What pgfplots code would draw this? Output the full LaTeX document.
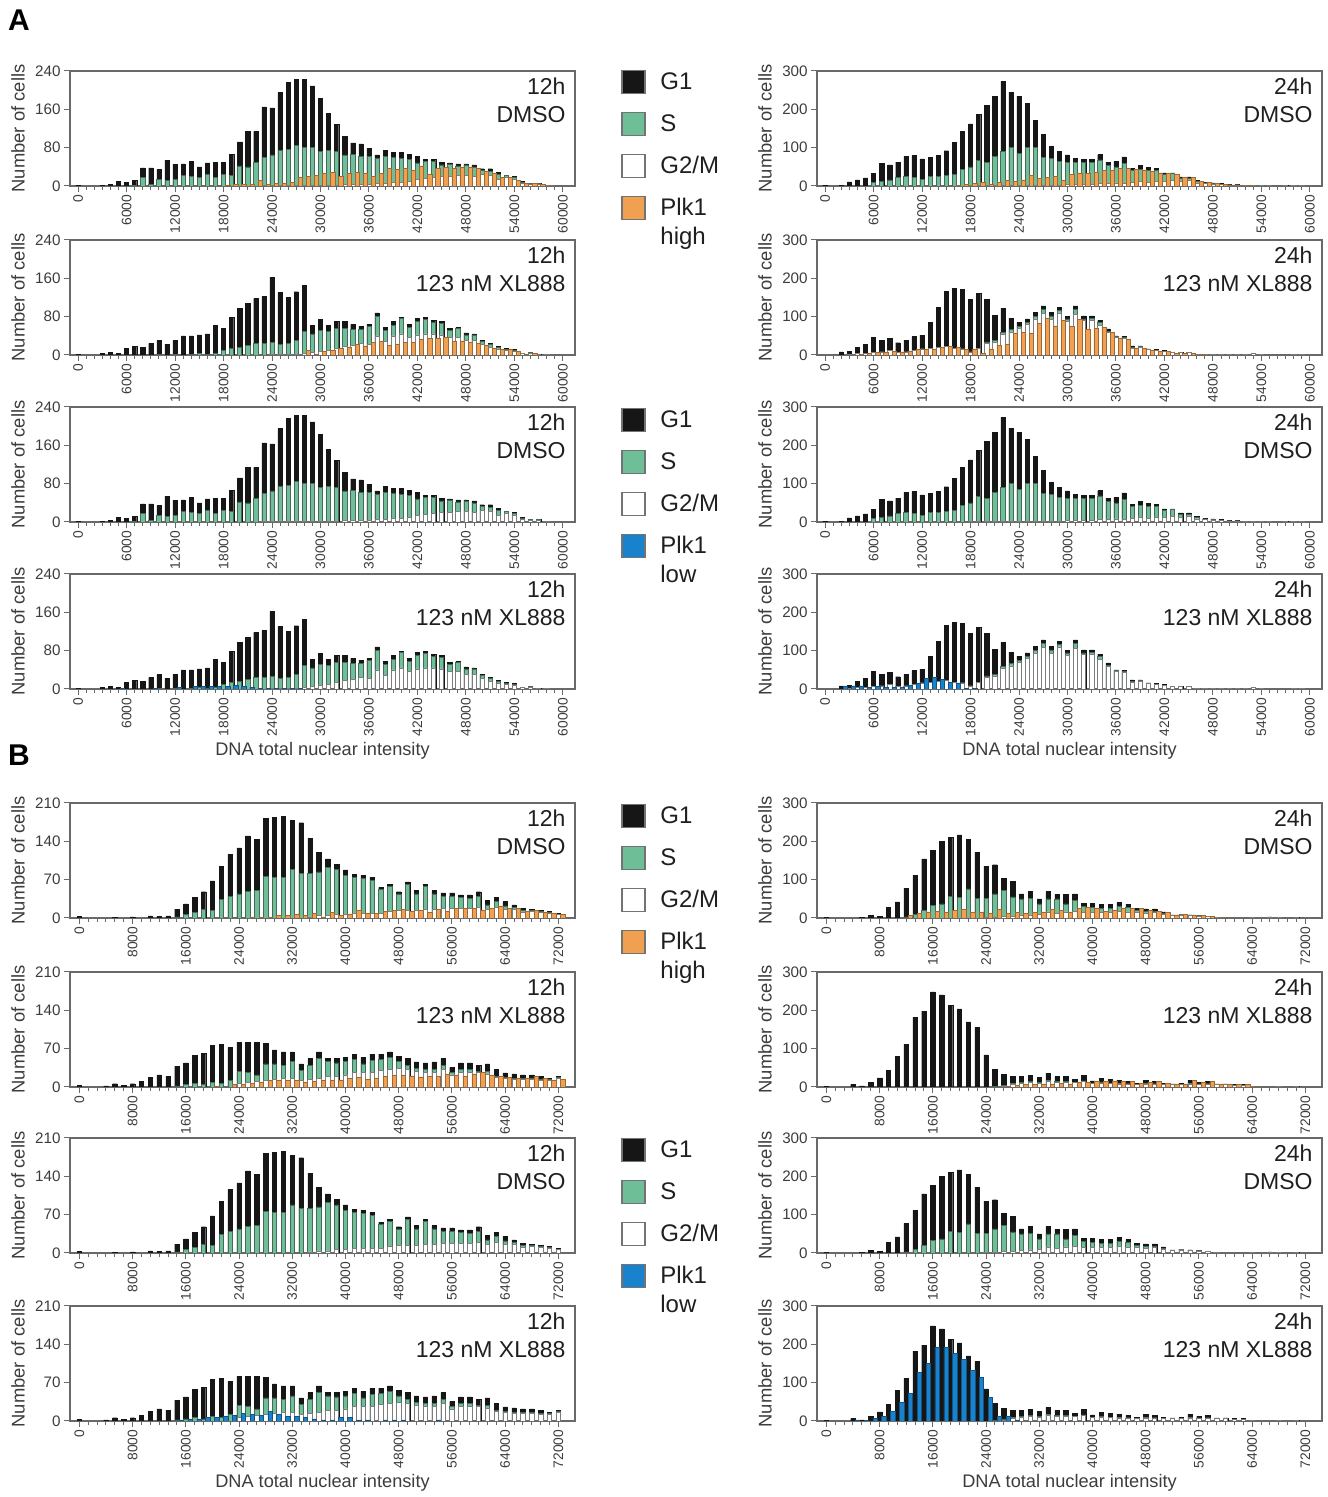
\documentclass[border=0pt]{standalone}
\usepackage{pgfplots}
\pgfplotsset{compat=1.18}
\usepackage{pgfplotstable}
\usepackage{fontspec}
\setmainfont{Liberation Sans}
\definecolor{gblack}{RGB}{22,22,22}
\definecolor{sgreen}{RGB}{110,190,152}
\definecolor{sedge}{RGB}{70,105,88}
\definecolor{wedge}{RGB}{125,125,125}
\definecolor{plkhigh}{RGB}{240,160,80}
\definecolor{plklow}{RGB}{25,130,205}
\definecolor{axgray}{RGB}{105,105,105}
\definecolor{labgray}{RGB}{60,60,60}

% columns: tot = top of G1 (total), st = top of S, wt = top of G2/M, hi = Plk1 high, lo = Plk1 low
\pgfplotstableread{
tot st wt hi lo
2 0 0 0 0
0 0 0 0 0
0 0 0 0 0
2 0 0 0 0
4 0 0 0 0
10 0 0 0 0
8 0 0 0 0
12 2 0 0 0
38 18 0 0 0
38 4 0 0 0
34 14 0 0 0
54 12 0 0 0
45 14 0 0 0
46 22 0 0 0
52 20 0 0 0
40 18 0 0 0
48 24 0 0 0
50 18 0 0 0
50 24 0 2 0
66 22 0 4 0
92 42 0 4 0
114 40 0 4 0
114 50 0 12 0
165 60 2 4 0
163 65 2 6 0
195 75 2 6 0
216 76 2 8 0
223 84 2 18 0
223 80 2 20 0
209 80 2 22 0
183 72 2 26 0
152 75 2 28 0
128 72 2 20 0
104 65 4 26 0
90 66 4 28 0
88 62 4 26 0
78 62 4 20 0
65 58 6 26 0
75 62 6 36 0
70 60 8 34 0
70 58 8 36 0
66 55 10 32 0
62 48 14 42 0
56 52 16 24 0
56 52 18 36 0
50 44 20 38 0
48 46 20 36 0
46 42 22 40 0
46 44 22 40 0
44 40 20 36 0
36 32 24 30 0
36 30 22 26 0
28 24 14 18 0
22 22 18 18 0
20 18 14 12 0
10 8 6 6 0
6 5 3 5 0
6 6 4 4 0
2 2 2 2 0
0 0 0 0 0
0 0 0 0 0
}\AaD

\pgfplotstableread{
tot st wt hi lo
2 0 0 0 0
0 0 0 0 0
0 0 0 0 0
4 0 0 0 0
6 0 0 0 0
4 0 0 0 2
14 0 0 0 0
18 0 0 0 0
16 0 0 0 0
24 0 0 0 2
30 2 0 0 0
22 0 0 0 0
30 2 0 0 4
40 0 0 0 0
40 2 0 0 6
42 4 0 0 6
44 2 0 0 6
62 4 0 0 6
56 10 0 0 6
78 14 0 0 8
98 16 0 0 6
108 20 0 0 4
118 24 0 0 2
122 24 0 0 2
162 26 2 0 2
130 22 2 0 2
120 24 2 0 2
132 30 2 0 2
145 50 4 10 0
62 44 6 2 0
74 52 8 8 0
62 50 10 10 0
70 56 14 14 0
70 56 18 16 0
64 54 20 22 0
60 54 24 18 0
64 60 22 26 0
88 80 40 28 0
58 52 28 20 0
70 62 40 22 0
78 76 44 26 0
64 58 36 26 0
76 70 42 32 0
78 74 44 34 0
72 68 44 34 0
70 66 42 36 0
56 52 36 28 0
58 56 36 28 0
46 42 30 26 0
44 42 30 24 0
30 28 22 20 0
24 22 16 14 0
18 16 12 12 0
14 12 10 12 0
12 10 8 8 0
4 4 4 2 0
6 5 4 3 0
2 2 2 0 0
2 2 2 0 0
0 0 0 0 0
0 0 0 0 0
}\AaX

\pgfplotstableread{
tot st wt hi lo
2 0 0 0 0
0 0 0 0 0
2 0 0 0 0
11 0 0 0 0
16 0 0 0 0
21 0 0 0 0
33 10 0 0 0
59 12 0 0 0
55 16 0 0 0
62 23 0 0 0
77 24 0 0 0
79 23 0 0 0
71 18 0 0 0
75 24 0 0 0
79 24 0 0 0
92 27 0 0 0
114 31 0 2 0
142 44 0 4 0
162 50 2 6 0
186 66 2 10 0
210 62 2 4 0
234 77 2 10 0
273 90 2 14 0
245 101 2 12 0
234 85 2 16 0
215 101 2 28 0
171 101 2 20 0
134 75 2 22 0
104 71 2 24 0
91 64 2 16 0
81 62 4 30 0
72 62 4 34 0
70 62 4 32 0
70 62 4 36 0
82 68 6 40 0
62 54 6 40 0
64 50 8 46 0
76 58 6 46 0
46 40 10 44 0
54 44 12 42 0
48 40 10 38 0
46 40 12 34 0
34 30 12 32 0
34 32 14 30 0
24 20 12 22 0
24 20 14 22 0
14 12 8 12 0
10 8 6 10 0
8 6 5 6 0
6 4 4 4 0
4 3 3 3 0
4 3 3 2 0
2 2 2 2 0
2 2 2 0 0
2 2 2 0 0
1 1 1 0 0
0 0 0 0 0
2 2 2 0 0
2 2 2 0 0
2 2 2 0 0
0 0 0 0 0
}\AbD

\pgfplotstableread{
tot st wt hi lo
0 0 0 0 0
0 0 0 0 0
8 0 0 0 6
10 2 2 0 8
20 4 4 2 8
28 4 4 4 4
46 6 6 6 6
38 8 8 6 4
44 12 12 10 4
32 6 6 8 4
38 8 8 10 10
48 12 12 14 14
52 16 16 14 28
86 18 18 16 30
124 20 20 20 24
166 22 22 22 18
174 18 18 20 16
172 16 16 14 2
146 8 8 16 2
160 18 18 4 0
146 34 30 16 0
104 38 34 26 0
122 58 54 28 0
96 66 60 56 0
86 74 70 58 0
94 86 80 56 0
112 100 94 82 0
128 118 108 96 0
112 102 92 76 0
124 116 110 90 0
100 94 88 74 0
128 118 106 92 0
102 94 90 68 0
102 96 90 70 0
90 84 78 72 0
68 62 58 58 0
50 48 46 44 0
48 46 44 42 0
24 20 18 18 0
24 22 20 18 0
16 14 14 12 0
14 12 12 10 0
12 10 10 10 0
6 6 6 4 0
6 6 6 4 0
6 6 6 4 0
2 2 2 2 0
2 2 2 0 0
2 2 2 0 0
2 2 2 0 0
2 2 2 0 0
2 2 2 0 0
2 2 2 0 0
4 4 4 0 0
2 2 2 0 0
0 0 0 0 0
0 0 0 0 0
0 0 0 0 0
2 2 2 0 0
2 2 2 0 0
0 0 0 0 0
}\AbX

\pgfplotstableread{
tot st wt hi lo
3 0 0 0 0
0 0 0 0 0
0 0 0 0 0
0 0 0 0 0
1 0 0 0 0
0 0 0 0 0
2 0 0 0 0
0 0 0 0 0
4 0 0 0 0
3 0 0 0 0
4 0 0 0 0
16 2 0 0 0
26 6 0 0 0
38 10 0 0 0
48 16 0 0 0
68 14 0 0 0
94 34 0 0 0
116 40 0 0 0
128 44 0 0 0
150 48 0 2 0
144 50 0 2 0
182 76 0 2 0
184 74 0 4 0
186 74 0 4 0
178 88 0 6 0
174 82 0 4 0
146 82 2 8 0
120 84 4 2 0
108 92 4 10 0
98 88 6 4 0
88 78 6 6 0
80 74 8 14 0
78 72 8 8 0
74 68 8 8 0
56 52 8 12 0
62 58 12 14 0
48 44 14 16 0
66 62 14 12 0
50 44 14 14 0
62 58 16 10 0
50 44 16 16 0
46 40 18 12 0
46 40 18 18 0
42 38 18 18 0
42 36 18 18 0
48 40 20 14 0
32 24 16 18 0
38 30 20 22 0
30 22 16 18 0
24 20 16 18 0
18 14 10 12 0
16 14 12 14 0
14 12 10 10 0
12 10 8 8 0
8 6 6 6 0
}\BaD

\pgfplotstableread{
tot st wt hi lo
3 0 0 0 0
0 0 0 0 0
0 0 0 0 0
2 0 0 0 0
6 0 0 0 0
3 0 0 0 0
6 0 0 0 0
10 0 0 0 0
18 0 0 0 0
22 0 0 0 0
20 0 0 0 0
38 2 0 0 2
44 4 0 0 4
58 6 0 0 4
62 4 0 0 6
76 8 0 2 6
78 6 0 0 8
72 12 0 4 10
82 28 6 4 14
82 26 8 6 12
82 22 10 8 10
80 42 12 12 18
68 42 14 12 12
64 40 16 12 8
64 46 16 12 8
42 30 12 8 6
52 40 14 10 4
64 52 16 12 2
52 46 20 12 2
52 44 20 12 6
54 46 22 16 6
60 50 26 18 2
54 42 26 14 2
60 48 26 16 0
60 50 30 20 2
64 54 32 22 2
56 46 34 22 2
52 40 32 20 0
46 34 28 18 0
44 32 26 20 0
46 32 26 20 2
52 40 32 24 0
36 26 22 22 0
44 32 26 20 0
44 32 26 24 0
40 28 26 26 0
42 28 24 22 0
32 20 18 20 0
26 18 16 18 0
24 16 14 16 0
22 16 14 16 0
22 16 14 20 0
20 14 12 16 0
16 14 12 12 0
20 18 16 14 0
}\BaX

\pgfplotstableread{
tot st wt hi lo
2 0 0 0 0
0 0 0 0 0
0 0 0 0 0
0 0 0 0 0
2 0 0 0 0
6 0 0 0 0
4 0 0 0 0
28 0 0 0 0
42 0 0 0 0
77 3 0 6 0
111 10 0 13 0
154 20 0 16 0
177 32 0 18 0
200 37 0 14 0
211 56 0 20 0
217 54 0 22 0
206 76 0 16 0
172 52 0 16 0
135 52 2 12 0
139 63 2 22 0
104 72 4 12 0
95 55 4 14 0
63 50 6 12 0
70 51 8 14 0
50 37 10 16 0
69 50 16 22 0
62 50 12 20 0
62 37 16 16 0
63 45 18 24 0
38 30 14 28 0
38 28 14 24 0
36 26 14 18 0
36 26 14 20 0
40 30 18 24 0
36 28 16 26 0
26 20 14 24 0
24 18 12 20 0
24 18 14 18 0
16 12 10 14 0
8 6 6 8 0
10 10 8 10 0
8 8 6 8 0
6 6 4 6 0
4 4 4 4 0
2 2 2 2 0
0 0 0 0 0
0 0 0 0 0
0 0 0 0 0
2 2 2 0 0
0 0 0 0 0
3 2 2 0 0
2 2 2 0 0
0 0 0 0 0
2 2 2 0 0
0 0 0 0 0
}\BbD

\pgfplotstableread{
tot st wt hi lo
2 0 0 0 0
0 0 0 0 0
0 0 0 0 0
7 0 0 0 3
3 0 0 0 2
13 0 0 0 7
24 0 0 0 13
44 0 0 0 24
80 0 0 0 49
111 0 0 0 71
182 0 0 0 126
198 0 0 0 151
248 0 0 0 193
240 0 0 0 191
213 0 0 0 177
204 0 0 0 161
170 0 0 0 131
155 0 0 0 113
84 0 0 0 62
46 2 0 0 13
33 4 2 2 11
27 10 8 4 3
27 12 10 6 0
31 14 12 6 0
25 12 10 8 0
36 18 16 8 0
28 14 12 10 0
28 14 12 8 0
20 12 12 12 0
30 16 14 12 0
16 10 10 14 0
22 12 10 14 0
20 10 10 16 0
18 10 8 14 0
14 8 8 14 0
10 6 6 10 0
18 10 8 12 0
14 8 8 14 0
10 6 6 10 0
8 6 6 8 0
10 6 6 8 0
18 10 8 18 0
12 8 6 12 0
14 8 8 14 0
8 6 6 8 0
8 6 6 8 0
6 4 4 6 0
6 4 4 6 0
2 2 2 2 0
0 0 0 0 0
0 0 0 0 0
2 2 2 0 0
0 0 0 0 0
2 2 2 0 0
0 0 0 0 0
}\BbX

\pgfplotsset{
  every axis y label/.style={at={(axis description cs:-0.103,0.5)},rotate=90,anchor=center},
  every axis x label/.style={at={(axis description cs:0.5,-0.54)},anchor=center},
  hbase/.style={
    scale only axis, width=252.5pt, height=57.5pt, anchor=north west,
    ybar, ymin=0,
    axis line style={draw=axgray,line width=0.6pt},
    tick style={draw=axgray,line width=0.5pt},
    tick align=outside, major tick length=3pt, minor tick length=2pt,
    xtick pos=lower, ytick pos=left, minor x tick num=5,
    scaled x ticks=false, scaled y ticks=false,
    /pgf/number format/assume math mode=true,
    /pgf/number format/1000 sep={},
    xticklabel style={rotate=90, anchor=east, font=\fontsize{6.9}{8}\selectfont, text=labgray, inner sep=1.2pt},
    yticklabel style={font=\fontsize{7.6}{9}\selectfont, text=labgray, inner sep=1.5pt},
    ylabel={Number of cells},
    ylabel style={font=\fontsize{9.2}{10}\selectfont, text=labgray},
    xlabel style={font=\fontsize{9.1}{10}\selectfont, text=labgray},
    every axis plot/.append style={y filter/.expression={y<=0 ? nan : y}},
  },
  Ax/.style={hbase, xmin=-1000, xmax=61500, xtick={0,6000,...,60000}},
  Bx/.style={hbase, xmin=-1400, xmax=74500, xtick={0,8000,...,72000}},
  y240/.style={ymax=240, ytick={0,80,160,240}},
  y300/.style={ymax=300, ytick={0,100,200,300}},
  y210/.style={ymax=210, ytick={0,70,140,210}},
}

\def\binw{1000}
\def\bw{2.1pt}
\def\osh{2.1pt}

% #1 styles, #2 position, #3 table, #4 overlay column, #5 overlay colour, #6 annotation
\newcommand{\panel}[6]{%
  \begin{axis}[#1, at={#2}]
    \addplot[bar shift=0pt, bar width=\bw, fill=gblack, draw=gblack, line width=0.2pt]
      table[x expr=\coordindex*\binw, y=tot]{#3};
    \addplot[bar shift=0pt, bar width=\bw, fill=sgreen, draw=sedge, line width=0.3pt]
      table[x expr=\coordindex*\binw, y=st]{#3};
    \addplot[bar shift=0pt, bar width=\bw, fill=white, draw=wedge, line width=0.3pt]
      table[x expr=\coordindex*\binw, y=wt]{#3};
    \addplot[bar shift=\osh, bar width=\bw, fill=#5, draw=#5!65!black, line width=0.3pt]
      table[x expr=\coordindex*\binw, y=#4]{#3};
    \node[anchor=north east, align=right, inner sep=0pt, font=\fontsize{11.5}{14}\selectfont, text=black!88]
      at (rel axis cs:0.982,0.94) {#6};
  \end{axis}}

\newcommand{\lsq}[3]{%
  \draw[draw=black!55, line width=0.6pt, fill=#2] (311pt,{#1-5.75pt}) rectangle (322.5pt,{#1+5.75pt});
  \node[anchor=mid west, inner sep=0pt, font=\fontsize{12}{14}\selectfont, text=black!88] at (330pt,{#1-1pt}) {#3};}

\begin{document}
\begin{tikzpicture}
\useasboundingbox (0pt,0pt) rectangle (663.5pt,748.5pt);
\node[font=\bfseries\fontsize{15}{17}\selectfont] at (9.5pt,738.5pt) {A};
\node[font=\bfseries\fontsize{15}{17}\selectfont] at (9.5pt,371pt) {B};

% ---- A (bins of 1000)
\def\binw{1000}\def\bw{2.1pt}\def\osh{2.1pt}
\panel{Ax,y240}{(35pt,713pt)}{\AaD}{hi}{plkhigh}{12h\\DMSO}
\panel{Ax,y240}{(35pt,628.5pt)}{\AaX}{hi}{plkhigh}{12h\\123 nM XL888}
\panel{Ax,y240}{(35pt,545pt)}{\AaD}{lo}{plklow}{12h\\DMSO}
\panel{Ax,y240,xlabel={DNA total nuclear intensity}}{(35pt,461.5pt)}{\AaX}{lo}{plklow}{12h\\123 nM XL888}
\panel{Ax,y300}{(408.5pt,713pt)}{\AbD}{hi}{plkhigh}{24h\\DMSO}
\panel{Ax,y300}{(408.5pt,628.5pt)}{\AbX}{hi}{plkhigh}{24h\\123 nM XL888}
\panel{Ax,y300}{(408.5pt,545pt)}{\AbD}{lo}{plklow}{24h\\DMSO}
\panel{Ax,y300,xlabel={DNA total nuclear intensity}}{(408.5pt,461.5pt)}{\AbX}{lo}{plklow}{24h\\123 nM XL888}
% ---- B (bins of 1333)
\def\binw{1333.333}\def\bw{2.2pt}\def\osh{2.2pt}
\panel{Bx,y210}{(35pt,347pt)}{\BaD}{hi}{plkhigh}{12h\\DMSO}
\panel{Bx,y210}{(35pt,262.5pt)}{\BaX}{hi}{plkhigh}{12h\\123 nM XL888}
\panel{Bx,y210}{(35pt,179.5pt)}{\BaD}{lo}{plklow}{12h\\DMSO}
\panel{Bx,y210,xlabel={DNA total nuclear intensity}}{(35pt,95.5pt)}{\BaX}{lo}{plklow}{12h\\123 nM XL888}
\panel{Bx,y300}{(408.5pt,347pt)}{\BbD}{hi}{plkhigh}{24h\\DMSO}
\panel{Bx,y300}{(408.5pt,262.5pt)}{\BbX}{hi}{plkhigh}{24h\\123 nM XL888}
\panel{Bx,y300}{(408.5pt,179.5pt)}{\BbD}{lo}{plklow}{24h\\DMSO}
\panel{Bx,y300,xlabel={DNA total nuclear intensity}}{(408.5pt,95.5pt)}{\BbX}{lo}{plklow}{24h\\123 nM XL888}

% ---- legends
\lsq{707.5pt}{gblack}{G1}
\lsq{686.5pt}{sgreen}{S}
\lsq{665.5pt}{white}{G2/M}
\lsq{644.5pt}{plkhigh}{Plk1}
\node[anchor=mid west, inner sep=0pt, font=\fontsize{12}{14}\selectfont, text=black!88] at (330pt,629pt) {high};
\lsq{538.5pt}{gblack}{G1}
\lsq{517.5pt}{sgreen}{S}
\lsq{496.5pt}{white}{G2/M}
\lsq{475.5pt}{plklow}{Plk1}
\node[anchor=mid west, inner sep=0pt, font=\fontsize{12}{14}\selectfont, text=black!88] at (330pt,460pt) {low};
\lsq{340.5pt}{gblack}{G1}
\lsq{319.5pt}{sgreen}{S}
\lsq{298.5pt}{white}{G2/M}
\lsq{277.5pt}{plkhigh}{Plk1}
\node[anchor=mid west, inner sep=0pt, font=\fontsize{12}{14}\selectfont, text=black!88] at (330pt,262pt) {high};
\lsq{173.5pt}{gblack}{G1}
\lsq{152.5pt}{sgreen}{S}
\lsq{131.5pt}{white}{G2/M}
\lsq{110.5pt}{plklow}{Plk1}
\node[anchor=mid west, inner sep=0pt, font=\fontsize{12}{14}\selectfont, text=black!88] at (330pt,95pt) {low};
\end{tikzpicture}
\end{document}
